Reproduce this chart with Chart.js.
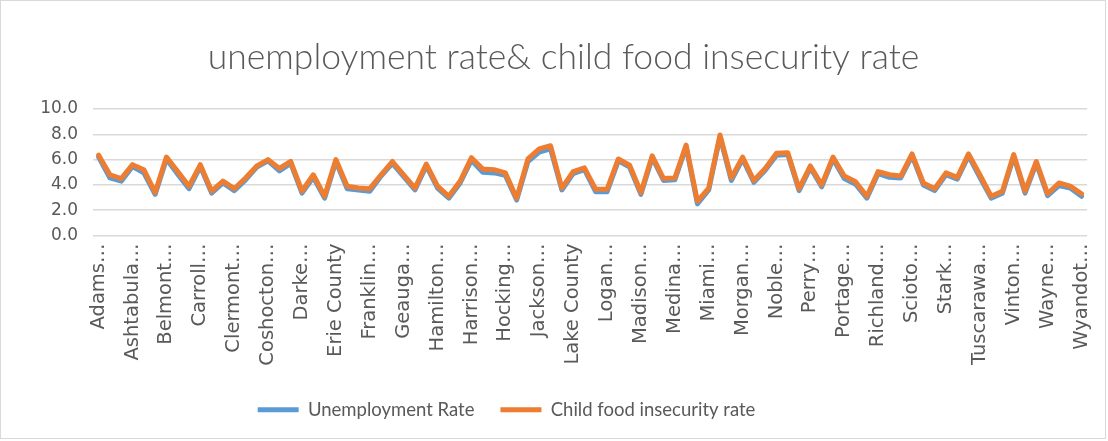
<!DOCTYPE html>
<html>
<head>
<meta charset="utf-8">
<script src="https://cdn.jsdelivr.net/npm/chart.js@4/dist/chart.umd.min.js"></script>
<style>
  html, body { margin: 0; padding: 0; background: #fff; }
  #wrap { position: relative; width: 1106px; height: 439px; border: 1px solid #d9d9d9; box-sizing: border-box; }
</style>
</head>
<body>
<div id="wrap"><canvas id="myChart"></canvas></div>
<script>
// Ohio counties, alphabetical
const counties = [
  'Adams', 'Allen', 'Ashland', 'Ashtabula', 'Athens', 'Auglaize', 'Belmont', 'Brown', 'Butler', 'Carroll',
  'Champaign', 'Clark', 'Clermont', 'Clinton', 'Columbiana', 'Coshocton', 'Crawford', 'Cuyahoga', 'Darke', 'Defiance',
  'Delaware', 'Erie', 'Fairfield', 'Fayette', 'Franklin', 'Fulton', 'Gallia', 'Geauga', 'Greene', 'Guernsey',
  'Hamilton', 'Hancock', 'Hardin', 'Harrison', 'Henry', 'Highland', 'Hocking', 'Holmes', 'Huron', 'Jackson',
  'Jefferson', 'Knox', 'Lake', 'Lawrence', 'Licking', 'Logan', 'Lorain', 'Lucas', 'Madison', 'Mahoning',
  'Marion', 'Medina', 'Meigs', 'Mercer', 'Miami', 'Monroe', 'Montgomery', 'Morgan', 'Morrow', 'Muskingum',
  'Noble', 'Ottawa', 'Paulding', 'Perry', 'Pickaway', 'Pike', 'Portage', 'Preble', 'Putnam', 'Richland',
  'Ross', 'Sandusky', 'Scioto', 'Seneca', 'Shelby', 'Stark', 'Summit', 'Trumbull', 'Tuscarawas', 'Union',
  'Van Wert', 'Vinton', 'Warren', 'Washington', 'Wayne', 'Williams', 'Wood', 'Wyandot'
].map(name => name + ' County');

const unemploymentRate = [
  6.2, 4.55, 4.3, 5.45, 4.95, 3.25, 6.05, 4.85, 3.7, 5.45,
  3.35, 4.15, 3.55, 4.4, 5.4, 5.9, 5.1, 5.7, 3.35, 4.6,
  2.95, 5.85, 3.7, 3.6, 3.5, 4.7, 5.7, 4.65, 3.6, 5.5,
  3.75, 2.95, 4.15, 5.95, 5.0, 4.95, 4.75, 2.8, 5.85, 6.6,
  6.85, 3.6, 4.9, 5.2, 3.45, 3.45, 5.9, 5.4, 3.25, 6.15,
  4.35, 4.4, 7.0, 2.5, 3.6, 7.8, 4.35, 6.05, 4.2, 5.15,
  6.35, 6.4, 3.55, 5.35, 3.85, 6.05, 4.5, 4.05, 2.95, 4.9,
  4.6, 4.55, 6.3, 4.0, 3.55, 4.8, 4.45, 6.3, 4.6, 2.95,
  3.35, 6.25, 3.35, 5.7, 3.15, 3.95, 3.75, 3.1
];

const childFoodInsecurity = [
  6.35, 4.8, 4.5, 5.6, 5.2, 3.4, 6.2, 5.05, 3.9, 5.6,
  3.5, 4.3, 3.7, 4.55, 5.5, 6.0, 5.3, 5.85, 3.5, 4.8,
  3.1, 6.0, 3.9, 3.75, 3.7, 4.8, 5.85, 4.8, 3.75, 5.65,
  3.9, 3.1, 4.3, 6.15, 5.25, 5.2, 4.95, 2.95, 6.05, 6.85,
  7.1, 3.75, 5.05, 5.35, 3.65, 3.65, 6.05, 5.55, 3.4, 6.3,
  4.5, 4.55, 7.15, 2.7, 3.75, 7.95, 4.55, 6.2, 4.35, 5.3,
  6.5, 6.55, 3.7, 5.5, 4.0, 6.2, 4.7, 4.25, 3.1, 5.05,
  4.8, 4.7, 6.45, 4.15, 3.7, 4.95, 4.6, 6.45, 4.8, 3.1,
  3.5, 6.4, 3.5, 5.85, 3.3, 4.15, 3.9, 3.3
];

const yTicks = [0, 2, 4, 6, 8, 10];

const textColor = '#595959';
const gridColor = '#d9d9d9';

// shorten long category names the way the axis shows them
function shortLabel(name) {
  if (name.length <= 11) return name;
  let first = name.split(' ')[0];
  if (first.length > 9) first = first.slice(0, 9);
  return first + '\u2026';
}

// nudge title right and legend left of the default centre
const boxShift = {
  id: 'boxShift',
  afterLayout(chart) {
    chart.titleBlock.left += 13;
    chart.titleBlock.right += 13;
    chart.legend.left -= 44;
    chart.legend.right -= 44;
  }
};

const ctx = document.getElementById('myChart').getContext('2d');
const chart = new Chart(ctx, {
  type: 'line',
  data: {
    labels: counties,
    datasets: [
      {
        label: 'Unemployment Rate',
        data: unemploymentRate,
        borderColor: '#5b9bd5',
        backgroundColor: '#5b9bd5',
        borderWidth: 5,
        borderCapStyle: 'round',
        borderJoinStyle: 'round',
        pointRadius: 0,
        tension: 0,
        order: 1
      },
      {
        label: 'Child food insecurity rate',
        data: childFoodInsecurity,
        borderColor: '#ed7d31',
        backgroundColor: '#ed7d31',
        borderWidth: 5,
        borderCapStyle: 'round',
        borderJoinStyle: 'round',
        pointRadius: 0,
        tension: 0,
        order: 0
      }
    ]
  },
  options: {
    responsive: true,
    maintainAspectRatio: false,
    animation: false,
    layout: {
      padding: { left: 10, right: 15, top: 0, bottom: 9 }
    },
    scales: {
      x: {
        offset: true,
        grid: { display: false },
        border: { display: false },
        ticks: {
          autoSkip: false,
          minRotation: 90,
          maxRotation: 90,
          padding: 0,
          color: textColor,
          font: { family: 'DejaVu Sans', size: 19.5 },
          callback: function(value, index) {
            return index % 3 === 0 ? shortLabel(counties[index]) : '';
          }
        },
        afterFit: function(scale) { scale.height = 139; }
      },
      y: {
        min: 0,
        max: 10,
        afterBuildTicks: function(scale) {
          scale.ticks = yTicks.map(v => ({ value: v }));
        },
        grid: { color: gridColor, lineWidth: 1.5, drawTicks: false },
        border: { display: false },
        ticks: {
          autoSkip: false,
          padding: 15,
          color: textColor,
          font: { family: 'DejaVu Sans', size: 17 },
          callback: function(value) { return value.toFixed(1); }
        },
        afterFit: function(scale) { scale.width = 82; }
      }
    },
    plugins: {
      title: {
        display: true,
        text: 'unemployment rate& child food insecurity rate',
        color: textColor,
        font: { family: 'Lato', size: 35.5, weight: 300 },
        padding: { top: 35, bottom: 30.4 }
      },
      legend: {
        position: 'bottom',
        labels: {
          usePointStyle: true,
          pointStyle: 'line',
          pointStyleWidth: 41,
          boxHeight: 18,
          padding: 26,
          color: textColor,
          font: { family: 'Lato', size: 18.5 },
          sort: (a, b) => a.datasetIndex - b.datasetIndex
        }
      },
      tooltip: { enabled: false }
    }
  },
  plugins: [boxShift]
});
</script>
</body>
</html>
